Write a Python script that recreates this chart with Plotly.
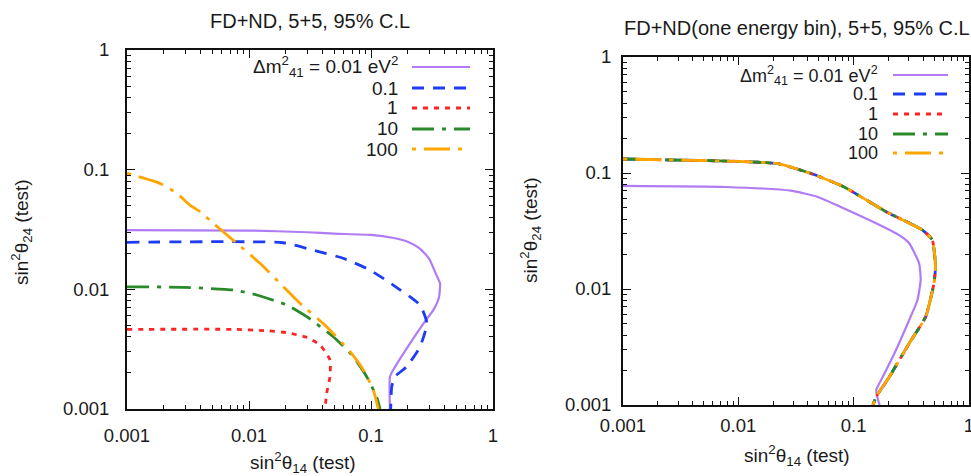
import plotly.graph_objects as go

# ---------------- data: left panel (FD+ND) ----------------
L_X_001 = [0.001, 0.01, 0.03, 0.05, 0.1, 0.15, 0.2, 0.25, 0.3, 0.34, 0.368, 0.36, 0.324, 0.277, 0.209, 0.152, 0.143, 0.143]
L_Y_001 = [0.0313, 0.031, 0.030, 0.0292, 0.0285, 0.027, 0.025, 0.022, 0.018, 0.0135, 0.0112, 0.0085, 0.0067, 0.0054, 0.00354, 0.00212, 0.00186, 0.001]

L_X_01 = [0.001, 0.019, 0.0334, 0.0589, 0.098, 0.151, 0.252, 0.287, 0.252, 0.196, 0.157, 0.148, 0.145]
L_Y_01 = [0.0247, 0.0245, 0.0213, 0.0182, 0.0145, 0.0109, 0.0074, 0.0052, 0.0033, 0.00226, 0.00186, 0.00154, 0.001]

L_X_1 = [0.001, 0.0074, 0.014, 0.0204, 0.0297, 0.0382, 0.0461, 0.0461, 0.0433, 0.042]
L_Y_1 = [0.00463, 0.00463, 0.00451, 0.00434, 0.00397, 0.00343, 0.00257, 0.00186, 0.00135, 0.001]

L_X_10 = [0.001, 0.0029, 0.00743, 0.01156, 0.0204, 0.0297, 0.0491, 0.0716, 0.0922, 0.111, 0.1186]
L_Y_10 = [0.0105, 0.0104, 0.00987, 0.00897, 0.0074, 0.00591, 0.00402, 0.00274, 0.00186, 0.00127, 0.001]

L_X_100 = [0.001, 0.00186, 0.00256, 0.00328, 0.00396, 0.0051, 0.00636, 0.00793, 0.0123, 0.018, 0.0262, 0.0433, 0.0673, 0.0865, 0.1045, 0.1148]
L_Y_100 = [0.0933, 0.0768, 0.0634, 0.0506, 0.0446, 0.0356, 0.0294, 0.0243, 0.0165, 0.0112, 0.00764, 0.00487, 0.00301, 0.00212, 0.00144, 0.001]

# ---------------- data: right panel (FD+ND, one energy bin) ----------------
R_X_001 = [0.001, 0.00769, 0.0286, 0.0483, 0.0764, 0.147, 0.25, 0.303, 0.369, 0.381, 0.357, 0.303, 0.233, 0.179, 0.157, 0.163, 0.168]
R_Y_001 = [0.0773, 0.0757, 0.0704, 0.0625, 0.0513, 0.038, 0.029, 0.0248, 0.0167, 0.012, 0.008, 0.0054, 0.00298, 0.00175, 0.00135, 0.0011, 0.001]

# the 0.1, 1, 10 and 100 eV^2 contours coincide in this panel
R_X_HI = [0.001, 0.01, 0.022, 0.0423, 0.0817, 0.191, 0.394, 0.48, 0.512, 0.497, 0.421, 0.303, 0.204, 0.157, 0.147]
R_Y_HI = [0.132, 0.1258, 0.1202, 0.0994, 0.0762, 0.0464, 0.0323, 0.0265, 0.01556, 0.0112, 0.00577, 0.0034, 0.00175, 0.00118, 0.001]

DM2_LABELS = ["Δm<sup>2</sup><sub>41</sub> = 0.01 eV<sup>2</sup>", "0.1", "1", "10", "100"]
TICK_VALS = [0.001, 0.01, 0.1, 1]
TICK_TEXT = ["0.001", "0.01", "0.1", "1"]

# ---------------- styles ----------------
STYLES = [
    dict(color="#b07cf4", width=2.2, dash="solid"),
    dict(color="#1f3cf5", width=2.8, dash="12px,9px"),
    dict(color="#ff2424", width=2.8, dash="5px,6px"),
    dict(color="#2a8a2a", width=2.8, dash="22px,8px,4px,8px"),
    dict(color="#ffa500", width=2.8, dash="4px,8px,26px,8px"),
]

W, H = 971, 476
FONT = "Liberation Sans, Arial, Helvetica, sans-serif"
TXT = "#1a1a1a"


def fx(px):
    return px / W


def fy(py):
    return 1 - py / H


fig = go.Figure()

left_series = [(L_X_001, L_Y_001), (L_X_01, L_Y_01), (L_X_1, L_Y_1), (L_X_10, L_Y_10), (L_X_100, L_Y_100)]
right_series = [(R_X_001, R_Y_001), (R_X_HI, R_Y_HI), (R_X_HI, R_Y_HI), (R_X_HI, R_Y_HI), (R_X_HI, R_Y_HI)]

for (xs, ys), st, name in zip(left_series, STYLES, DM2_LABELS):
    fig.add_trace(go.Scatter(x=xs, y=ys, mode="lines", line=dict(shape="spline", smoothing=0.5, **st),
                             name=name, showlegend=False, xaxis="x", yaxis="y"))
for (xs, ys), st, name in zip(right_series, STYLES, DM2_LABELS):
    fig.add_trace(go.Scatter(x=xs, y=ys, mode="lines", line=dict(shape="spline", smoothing=0.5, **st),
                             name=name, showlegend=False, xaxis="x2", yaxis="y2"))


def axis(domain, anchor, standoff):
    return dict(
        domain=domain, anchor=anchor, type="log", range=[-3, 0], automargin=False,
        tickmode="array", tickvals=TICK_VALS, ticktext=TICK_TEXT, ticklabeloverflow="allow",
        ticks="inside", ticklen=8, tickwidth=1.2, tickcolor="#111",
        minor=dict(ticks="inside", ticklen=4, tickwidth=1, tickcolor="#111",
                   tickvals=[m * d for d in (0.001, 0.01, 0.1) for m in range(2, 10)], showgrid=False),
        showline=True, linewidth=2, linecolor="#111", mirror="allticks",
        showgrid=False, zeroline=False, ticklabelstandoff=standoff,
        tickfont=dict(family=FONT, size=18.5, color=TXT),
    )


fig.update_layout(
    width=W, height=H, margin=dict(l=0, r=0, t=0, b=0, pad=0, autoexpand=False),
    paper_bgcolor="white", plot_bgcolor="white", showlegend=False,
    xaxis=axis([fx(127), fx(493)], "y", 9),
    yaxis=axis([fy(409), fy(50)], "x", 12),
    xaxis2=axis([fx(623), fx(969)], "y2", 3),
    yaxis2=axis([fy(405), fy(57)], "x2", 6),
)

ann = []


def label(text, cx, cy, size=19, angle=0, xanchor="center"):
    ann.append(dict(text=text, x=fx(cx), y=fy(cy), xref="paper", yref="paper",
                    xanchor=xanchor, yanchor="middle", textangle=angle, showarrow=False,
                    font=dict(family=FONT, size=size, color=TXT)))


# panel titles
label("FD+ND, 5+5, 95% C.L", 310, 21, size=20)
label("FD+ND(one energy bin), 5+5, 95% C.L", 797, 28, size=20)
# axis titles
label("sin<sup>2</sup>θ<sub>14</sub> (test)", 303, 462)
label("sin<sup>2</sup>θ<sub>14</sub> (test)", 797, 455)
label("sin<sup>2</sup>θ<sub>24</sub> (test)", 21, 232, angle=-90)
label("sin<sup>2</sup>θ<sub>24</sub> (test)", 530, 230, angle=-90)

# in-plot keys: label text right-aligned, line sample to its right
shapes = []
for text_right, s0, s1, rows, size in ((400, 412, 470, (67, 88, 108, 129, 149), 19),
                                       (880, 893, 948, (75, 94, 114, 134, 153), 18)):
    for name, st, ry in zip(DM2_LABELS, STYLES, rows):
        label(name, text_right, ry, size=size, xanchor="right")
        shapes.append(dict(type="line", xref="paper", yref="paper", x0=fx(s0), x1=fx(s1), y0=fy(ry), y1=fy(ry),
                           line=dict(color=st["color"], width=st["width"], dash=st["dash"])))

fig.update_layout(annotations=ann, shapes=shapes)
fig.write_html("out.html")
